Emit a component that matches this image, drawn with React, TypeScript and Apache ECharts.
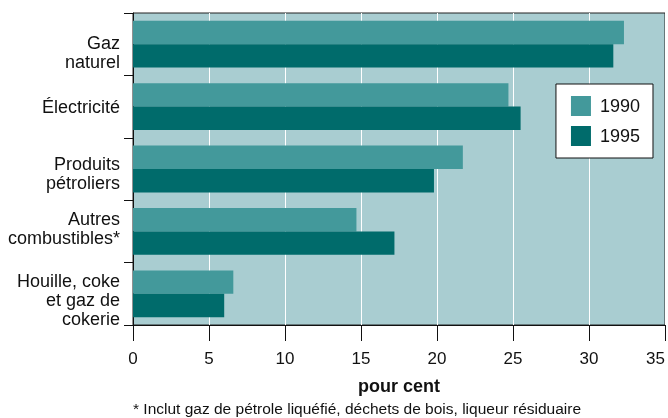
import React, { useEffect, useRef } from "react";
import * as echarts from "echarts";

const categories = [
  "Gaz\nnaturel",
  "Électricité",
  "Produits\npétroliers",
  "Autres\ncombustibles*",
  "Houille, coke\net gaz de\ncokerie",
];
const values1990 = [32.3, 24.7, 21.7, 14.7, 6.6];
const values1995 = [31.6, 25.5, 19.8, 17.2, 6.0];
const xTicks = { min: 0, max: 35, interval: 5 };
const axisTitle = "pour cent";
const footnote = "* Inclut gaz de pétrole liquéfié, déchets de bois, liqueur résiduaire";

const FONT = "'Liberation Sans', Arial, sans-serif";

// vertical nudge (px) of each category label block, layout only
const labelNudge = [8, 0, 4, -3, 6];

const baseText = { fontSize: 18, lineHeight: 19, color: "#111", fontFamily: FONT };
const richStyles: Record<string, any> = { n: { ...baseText } };
labelNudge.forEach((d, i) => {
  richStyles["s" + i] = { fontSize: 1, lineHeight: Math.max(1, 2 * Math.abs(d)), color: "transparent" };
});

export default function App() {
  const ref = useRef<HTMLDivElement>(null);
  useEffect(() => {
    if (!ref.current) return;
    const chart = echarts.init(ref.current, undefined, { renderer: "svg" });
    chart.setOption({
      animation: false,
      textStyle: { fontFamily: FONT },
      grid: {
        left: 133,
        right: 3,
        top: 13,
        bottom: 93,
        containLabel: false,
        outerBoundsMode: "none",
        show: true,
        backgroundColor: "#a9cdd1",
        borderColor: "#222",
        borderWidth: 1,
      },
      legend: {
        right: 15,
        top: 84,
        orient: "vertical",
        backgroundColor: "#fff",
        borderColor: "#111",
        borderWidth: 1,
        padding: [12, 13, 12, 15],
        icon: "rect",
        itemWidth: 20,
        itemHeight: 20,
        itemGap: 10,
        textStyle: { fontSize: 18, color: "#111", fontFamily: FONT, padding: [0, 0, 0, 4] },
        data: ["1990", "1995"],
      },
      xAxis: {
        type: "value",
        min: xTicks.min,
        max: xTicks.max,
        interval: xTicks.interval,
        axisLine: { show: true, lineStyle: { color: "#111", width: 1 } },
        axisTick: { show: true, length: 16, lineStyle: { color: "#111", width: 1 } },
        axisLabel: {
          fontSize: 17,
          color: "#111",
          margin: 25,
          fontFamily: FONT,
          alignMaxLabel: "right",
        },
        splitLine: { show: true, lineStyle: { color: "#fff", width: 1 } },
        name: axisTitle,
        nameLocation: "middle",
        nameGap: 52,
        nameTextStyle: { fontSize: 18, fontWeight: "bold", color: "#111", fontFamily: FONT },
      },
      yAxis: {
        type: "category",
        inverse: true,
        data: categories,
        axisLine: { show: true, lineStyle: { color: "#111", width: 1 } },
        axisTick: { show: true, length: 9, lineStyle: { color: "#111", width: 1 } },
        axisLabel: {
          ...baseText,
          margin: 13,
          align: "right",
          formatter: (value: string, index: number) => {
            const lines = value.split("\n").map((l) => `{n|${l}}`);
            const d = labelNudge[index];
            if (d > 0) lines.unshift(`{s${index}| }`);
            if (d < 0) lines.push(`{s${index}| }`);
            return lines.join("\n");
          },
          rich: richStyles,
        },
      },
      graphic: [
        {
          type: "text",
          left: 133,
          top: 400,
          style: { text: footnote, fontSize: 15.5, fill: "#111", fontFamily: FONT },
        },
      ],
      series: [
        {
          name: "1990",
          type: "bar",
          data: values1990,
          barGap: "0%",
          barCategoryGap: "25%",
          itemStyle: { color: "#43999b" },
        },
        {
          name: "1995",
          type: "bar",
          data: values1995,
          barGap: "0%",
          barCategoryGap: "25%",
          itemStyle: { color: "#006b6b" },
        },
      ],
    });
    return () => chart.dispose();
  }, []);
  return (
    <div
      ref={ref}
      style={{ position: "fixed", left: 0, top: 0, width: 668, height: 418 }}
    />
  );
}
